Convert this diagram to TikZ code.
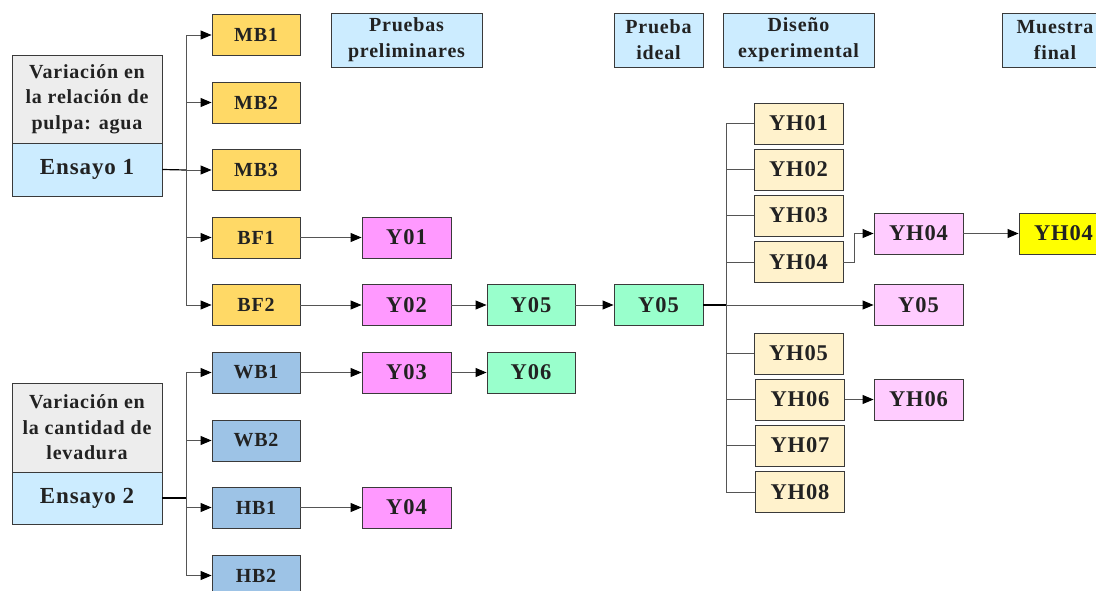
\documentclass[tikz,border=0pt]{standalone}
\usepackage{fontspec}
\setmainfont{Liberation Serif}[BoldFont={Liberation Serif Bold}, LetterSpace=4]
\usetikzlibrary{arrows.meta}
\definecolor{txt}{HTML}{222222}
\definecolor{edge}{HTML}{3A3A3A}
\definecolor{wire}{HTML}{555555}
\definecolor{fOrange}{HTML}{FFD966}
\definecolor{fBlue}{HTML}{9DC3E6}
\definecolor{fMagenta}{HTML}{FF99FF}
\definecolor{fGreen}{HTML}{99FFCC}
\definecolor{fCream}{HTML}{FFF2CC}
\definecolor{fPink}{HTML}{FFCCFF}
\definecolor{fHead}{HTML}{CCECFF}
\definecolor{fGray}{HTML}{EDEDED}
\definecolor{fYellow}{HTML}{FFFF00}
\tikzset{
  box/.style={draw=edge, line width=0.9pt, minimum width=88pt, minimum height=41pt,
    inner sep=0pt, text=txt, font=\bfseries\fontsize{20}{24}\selectfont},
  bigbox/.style={box, font=\bfseries\fontsize{22.5}{26}\selectfont},
  headbox/.style={draw=edge, line width=0.9pt, fill=fHead, inner sep=0pt, text=txt,
    align=center, minimum height=54pt, font=\bfseries\fontsize{20}{26}\selectfont},
  wire/.style={draw=wire, line width=0.9pt},
  trunk/.style={draw=black, line width=1.2pt},
  arr/.style={wire, -{Triangle[length=11pt,width=9pt,color=black]}, shorten >=0pt},
}
\begin{document}
\begin{tikzpicture}[x=1pt,y=-1pt]
\useasboundingbox (0,0) rectangle (1096,591);
\clip (0,0) rectangle (1096,591);

% header boxes
\node[headbox, minimum width=151pt] (hPre) at (406.5,40) {Pruebas\\preliminares};
\node[headbox, minimum width=89pt] (hIde) at (658.5,40) {Prueba\\ideal};
\node[headbox, minimum width=151pt] (hDis) at (798.5,40) {Diseño\\experimental};
\node[headbox, minimum width=106pt] (hFin) at (1055,40) {Muestra\\final};

% trial 1 block
\node[draw=edge, line width=0.9pt, fill=fGray, minimum width=150pt, minimum height=88pt,
  inner sep=0pt, align=center, text=txt, font=\bfseries\fontsize{20}{25.5}\selectfont]
  (v1) at (87,99) {Variación en\\la relación de\\pulpa: agua};
\node[draw=edge, line width=0.9pt, fill=fHead, minimum width=150pt, minimum height=53pt,
  inner sep=0pt, text=txt, font=\bfseries\fontsize{23}{26}\selectfont]
  (e1) at (87,169.5) {Ensayo 1};

% trial 2 block
\node[draw=edge, line width=0.9pt, fill=fGray, minimum width=150pt, minimum height=89pt,
  inner sep=0pt, align=center, text=txt, font=\bfseries\fontsize{20}{25.5}\selectfont]
  (v2) at (87,427.5) {Variación en\\la cantidad de\\levadura};
\node[draw=edge, line width=0.9pt, fill=fHead, minimum width=150pt, minimum height=52pt,
  inner sep=0pt, text=txt, font=\bfseries\fontsize{23}{26}\selectfont]
  (e2) at (87,498) {Ensayo 2};

% first-level samples
\node[box, fill=fOrange] (MB1) at (256,35) {MB1};
\node[box, fill=fOrange] (MB2) at (256,102.5) {MB2};
\node[box, fill=fOrange] (MB3) at (256,170) {MB3};
\node[box, fill=fOrange] (BF1) at (256,237.5) {BF1};
\node[box, fill=fOrange] (BF2) at (256,305) {BF2};
\node[box, fill=fBlue] (WB1) at (256,372.5) {WB1};
\node[box, fill=fBlue] (WB2) at (256,440.5) {WB2};
\node[box, fill=fBlue] (HB1) at (256,507.5) {HB1};
\node[box, fill=fBlue] (HB2) at (256,575.5) {HB2};

% preliminary tests
\node[bigbox, fill=fMagenta, minimum width=89pt] (Y01) at (406.5,237.5) {Y01};
\node[bigbox, fill=fMagenta, minimum width=89pt] (Y02) at (406.5,305) {Y02};
\node[bigbox, fill=fMagenta, minimum width=89pt] (Y03) at (406.5,372.5) {Y03};
\node[bigbox, fill=fMagenta, minimum width=89pt] (Y04) at (406.5,507.5) {Y04};
\node[bigbox, fill=fGreen] (Y05a) at (531,305) {Y05};
\node[bigbox, fill=fGreen] (Y06) at (531,372.5) {Y06};
\node[bigbox, fill=fGreen, minimum width=89pt] (Y05b) at (658.5,305) {Y05};

% experimental design
\node[bigbox, fill=fCream, minimum width=89pt] (YH01) at (798.5,123.5) {YH01};
\node[bigbox, fill=fCream, minimum width=89pt] (YH02) at (798.5,169.5) {YH02};
\node[bigbox, fill=fCream, minimum width=89pt] (YH03) at (798.5,215.5) {YH03};
\node[bigbox, fill=fCream, minimum width=89pt] (YH04) at (798.5,262) {YH04};
\node[bigbox, fill=fCream, minimum width=89pt] (YH05) at (798.5,353.5) {YH05};
\node[bigbox, fill=fCream, minimum width=89pt] (YH06) at (800,399.5) {YH06};
\node[bigbox, fill=fCream, minimum width=89pt] (YH07) at (800,445.5) {YH07};
\node[bigbox, fill=fCream, minimum width=89pt] (YH08) at (800,492) {YH08};

\node[bigbox, fill=fPink, minimum width=89pt] (P04) at (918.5,233.5) {YH04};
\node[bigbox, fill=fPink, minimum width=89pt] (P05) at (918.5,305) {Y05};
\node[bigbox, fill=fPink, minimum width=89pt] (P06) at (918.5,399.5) {YH06};
\node[bigbox, fill=fYellow, minimum width=89pt] (F04) at (1063.5,233.5) {YH04};

% branching points
\coordinate (t1) at (186,170);
\coordinate (t2) at (186,498);
\coordinate (t3) at (726,305);

% trial 1 branches
\draw[wire] (t1) -- (186,35);
\draw[wire] (t1) -- (186,305);
\foreach \n in {MB1,MB2,MB3,BF1,BF2} \draw[arr] (t1) |- (\n.west);
\draw[trunk] (e1.east) -- (t1);

% trial 2 branches
\draw[wire] (t2) -- (186,372.5);
\draw[wire] (t2) -- (186,575.5);
\foreach \n in {WB1,WB2,HB1,HB2} \draw[arr] (t2) |- (\n.west);
\draw[trunk] (e2.east) -- (t2);

% preliminary chains
\draw[arr] (BF1.east) -- (Y01.west);
\draw[arr] (BF2.east) -- (Y02.west);
\draw[arr] (Y02.east) -- (Y05a.west);
\draw[arr] (Y05a.east) -- (Y05b.west);
\draw[arr] (WB1.east) -- (Y03.west);
\draw[arr] (Y03.east) -- (Y06.west);
\draw[arr] (HB1.east) -- (Y04.west);

% experimental design branches
\draw[trunk] (Y05b.east) -- (t3);
\draw[trunk, line width=1pt] (726,123.5) -- (726,492);
\foreach \n in {YH01,YH02,YH03,YH04,YH05,YH06,YH07,YH08} \draw[wire] (t3) |- (\n.west);
\draw[arr] (t3) -- (P05.west);
\draw[arr] (YH04.east) -- ++(11,0) |- (P04.west);
\draw[arr] (P04.east) -- (F04.west);
\draw[arr] (YH06.east) -- (P06.west);
\end{tikzpicture}
\end{document}
